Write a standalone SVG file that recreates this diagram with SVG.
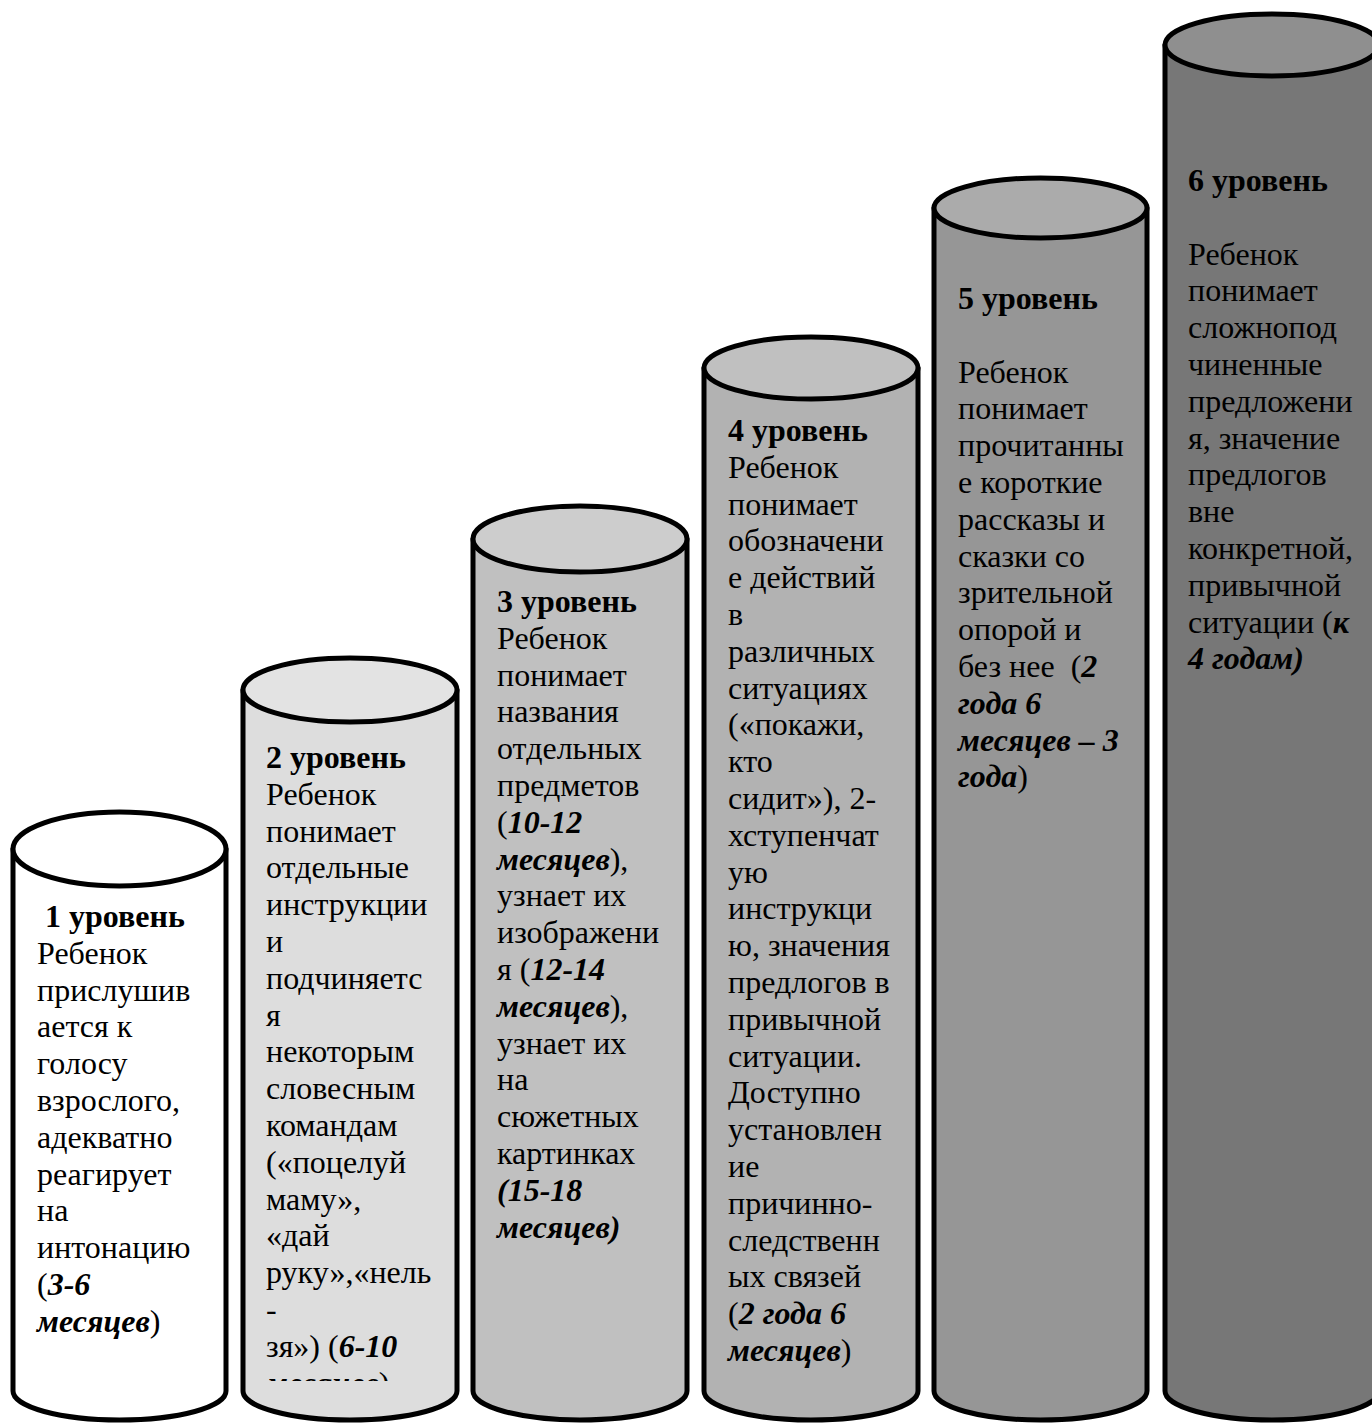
<svg xmlns="http://www.w3.org/2000/svg" width="1372" height="1423" viewBox="0 0 1372 1423">
  <style>
    .cyl { stroke: #000; stroke-width: 5; stroke-linejoin: round; }
    .t { font-family: "Liberation Serif", "Times New Roman", serif; font-size: 32px; fill: #000; }
    .b { font-weight: bold; }
    .bi { font-weight: bold; font-style: italic; }
  </style>
  <defs>
    <clipPath id="clip2">
      <rect x="243" y="690" width="214" height="691"/>
    </clipPath>
  </defs>
  <rect width="1372" height="1423" fill="#fff"/>

  <!-- Level 1 -->
  <g id="level1">
    <path class="cyl" fill="#ffffff" d="M13,849 L13,1391 A106.5,29 0 0 0 226,1391 L226,849 Z"/>
    <ellipse class="cyl" fill="#ffffff" cx="119.5" cy="849" rx="106.5" ry="37"/>
    <text class="t" x="37" y="927">
      <tspan class="b" x="45" y="927">1 уровень</tspan>
      <tspan x="37" dy="36.8">Ребенок</tspan>
      <tspan x="37" dy="36.8">прислушив</tspan>
      <tspan x="37" dy="36.8">ается к</tspan>
      <tspan x="37" dy="36.8">голосу</tspan>
      <tspan x="37" dy="36.8">взрослого,</tspan>
      <tspan x="37" dy="36.8">адекватно</tspan>
      <tspan x="37" dy="36.8">реагирует</tspan>
      <tspan x="37" dy="36.8">на</tspan>
      <tspan x="37" dy="36.8">интонацию</tspan>
      <tspan x="37" dy="36.8">(<tspan class="bi">3-6</tspan></tspan>
      <tspan x="37" dy="36.8"><tspan class="bi">месяцев</tspan>)</tspan>
    </text>
  </g>

  <!-- Level 2 -->
  <g id="level2">
    <path class="cyl" fill="#dddddd" d="M243,690 L243,1391 A107,29 0 0 0 457,1391 L457,690 Z"/>
    <ellipse class="cyl" fill="#e3e3e3" cx="350" cy="690" rx="107" ry="32"/>
    <text class="t" clip-path="url(#clip2)" x="266" y="768">
      <tspan class="b" x="266" y="768">2 уровень</tspan>
      <tspan x="266" dy="36.8">Ребенок</tspan>
      <tspan x="266" dy="36.8">понимает</tspan>
      <tspan x="266" dy="36.8">отдельные</tspan>
      <tspan x="266" dy="36.8">инструкции</tspan>
      <tspan x="266" dy="36.8">и</tspan>
      <tspan x="266" dy="36.8">подчиняетс</tspan>
      <tspan x="266" dy="36.8">я</tspan>
      <tspan x="266" dy="36.8">некоторым</tspan>
      <tspan x="266" dy="36.8">словесным</tspan>
      <tspan x="266" dy="36.8">командам</tspan>
      <tspan x="266" dy="36.8">(«поцелуй</tspan>
      <tspan x="266" dy="36.8">маму»,</tspan>
      <tspan x="266" dy="36.8">«дай</tspan>
      <tspan x="266" dy="36.8">руку»,«нель</tspan>
      <tspan x="266" dy="36.8">-</tspan>
      <tspan x="266" dy="36.8">зя») (<tspan class="bi">6-10</tspan></tspan>
      <tspan x="266" dy="36.8"><tspan class="bi">месяцев</tspan>)</tspan>
    </text>
  </g>

  <!-- Level 3 -->
  <g id="level3">
    <path class="cyl" fill="#c0c0c0" d="M473,539 L473,1391 A107,29 0 0 0 687,1391 L687,539 Z"/>
    <ellipse class="cyl" fill="#cdcdcd" cx="580" cy="539" rx="107" ry="33"/>
    <text class="t" x="497" y="612">
      <tspan class="b" x="497" y="612">3 уровень</tspan>
      <tspan x="497" dy="36.8">Ребенок</tspan>
      <tspan x="497" dy="36.8">понимает</tspan>
      <tspan x="497" dy="36.8">названия</tspan>
      <tspan x="497" dy="36.8">отдельных</tspan>
      <tspan x="497" dy="36.8">предметов</tspan>
      <tspan x="497" dy="36.8">(<tspan class="bi">10-12</tspan></tspan>
      <tspan x="497" dy="36.8"><tspan class="bi">месяцев</tspan>),</tspan>
      <tspan x="497" dy="36.8">узнает их</tspan>
      <tspan x="497" dy="36.8">изображени</tspan>
      <tspan x="497" dy="36.8">я (<tspan class="bi">12-14</tspan></tspan>
      <tspan x="497" dy="36.8"><tspan class="bi">месяцев</tspan>),</tspan>
      <tspan x="497" dy="36.8">узнает их</tspan>
      <tspan x="497" dy="36.8">на</tspan>
      <tspan x="497" dy="36.8">сюжетных</tspan>
      <tspan x="497" dy="36.8">картинках</tspan>
      <tspan class="bi" x="497" dy="36.8">(15-18</tspan>
      <tspan class="bi" x="497" dy="36.8">месяцев)</tspan>
    </text>
  </g>

  <!-- Level 4 -->
  <g id="level4">
    <path class="cyl" fill="#b2b2b2" d="M704,368 L704,1391 A107,29 0 0 0 918,1391 L918,368 Z"/>
    <ellipse class="cyl" fill="#c0c0c0" cx="811" cy="368" rx="107" ry="31"/>
    <text class="t" x="728" y="441">
      <tspan class="b" x="728" y="441">4 уровень</tspan>
      <tspan x="728" dy="36.8">Ребенок</tspan>
      <tspan x="728" dy="36.8">понимает</tspan>
      <tspan x="728" dy="36.8">обозначени</tspan>
      <tspan x="728" dy="36.8">е действий</tspan>
      <tspan x="728" dy="36.8">в</tspan>
      <tspan x="728" dy="36.8">различных</tspan>
      <tspan x="728" dy="36.8">ситуациях</tspan>
      <tspan x="728" dy="36.8">(«покажи,</tspan>
      <tspan x="728" dy="36.8">кто</tspan>
      <tspan x="728" dy="36.8">сидит»), 2-</tspan>
      <tspan x="728" dy="36.8">хступенчат</tspan>
      <tspan x="728" dy="36.8">ую</tspan>
      <tspan x="728" dy="36.8">инструкци</tspan>
      <tspan x="728" dy="36.8">ю, значения</tspan>
      <tspan x="728" dy="36.8">предлогов в</tspan>
      <tspan x="728" dy="36.8">привычной</tspan>
      <tspan x="728" dy="36.8">ситуации.</tspan>
      <tspan x="728" dy="36.8">Доступно</tspan>
      <tspan x="728" dy="36.8">установлен</tspan>
      <tspan x="728" dy="36.8">ие</tspan>
      <tspan x="728" dy="36.8">причинно-</tspan>
      <tspan x="728" dy="36.8">следственн</tspan>
      <tspan x="728" dy="36.8">ых связей</tspan>
      <tspan x="728" dy="36.8">(<tspan class="bi">2 года 6</tspan></tspan>
      <tspan x="728" dy="36.8"><tspan class="bi">месяцев</tspan>)</tspan>
    </text>
  </g>

  <!-- Level 5 -->
  <g id="level5">
    <path class="cyl" fill="#969696" d="M934,208 L934,1391 A106.5,29 0 0 0 1147,1391 L1147,208 Z"/>
    <ellipse class="cyl" fill="#ababab" cx="1040.5" cy="208" rx="106.5" ry="30"/>
    <text class="t" x="958" y="309">
      <tspan class="b" x="958" y="309">5 уровень</tspan>
      <tspan x="958" dy="73.6">Ребенок</tspan>
      <tspan x="958" dy="36.8">понимает</tspan>
      <tspan x="958" dy="36.8">прочитанны</tspan>
      <tspan x="958" dy="36.8">е короткие</tspan>
      <tspan x="958" dy="36.8">рассказы и</tspan>
      <tspan x="958" dy="36.8">сказки со</tspan>
      <tspan x="958" dy="36.8">зрительной</tspan>
      <tspan x="958" dy="36.8">опорой и</tspan>
      <tspan x="958" dy="36.8" xml:space="preserve">без нее  (<tspan class="bi">2</tspan></tspan>
      <tspan class="bi" x="958" dy="36.8">года 6</tspan>
      <tspan class="bi" x="958" dy="36.8">месяцев – 3</tspan>
      <tspan x="958" dy="36.8"><tspan class="bi">года</tspan>)</tspan>
    </text>
  </g>

  <!-- Level 6 -->
  <g id="level6">
    <path class="cyl" fill="#777777" d="M1165,45 L1165,1391 A107,29 0 0 0 1379,1391 L1379,45 Z"/>
    <ellipse class="cyl" fill="#8f8f8f" cx="1272" cy="45" rx="107" ry="31"/>
    <text class="t" x="1188" y="191">
      <tspan class="b" x="1188" y="191">6 уровень</tspan>
      <tspan x="1188" dy="73.6">Ребенок</tspan>
      <tspan x="1188" dy="36.8">понимает</tspan>
      <tspan x="1188" dy="36.8">сложнопод</tspan>
      <tspan x="1188" dy="36.8">чиненные</tspan>
      <tspan x="1188" dy="36.8">предложени</tspan>
      <tspan x="1188" dy="36.8">я, значение</tspan>
      <tspan x="1188" dy="36.8">предлогов</tspan>
      <tspan x="1188" dy="36.8">вне</tspan>
      <tspan x="1188" dy="36.8">конкретной,</tspan>
      <tspan x="1188" dy="36.8">привычной</tspan>
      <tspan x="1188" dy="36.8">ситуации (<tspan class="bi">к</tspan></tspan>
      <tspan class="bi" x="1188" dy="36.8">4 годам)</tspan>
    </text>
  </g>

  <!-- no connectors in this diagram -->
  <g id="connectors"/>
</svg>
